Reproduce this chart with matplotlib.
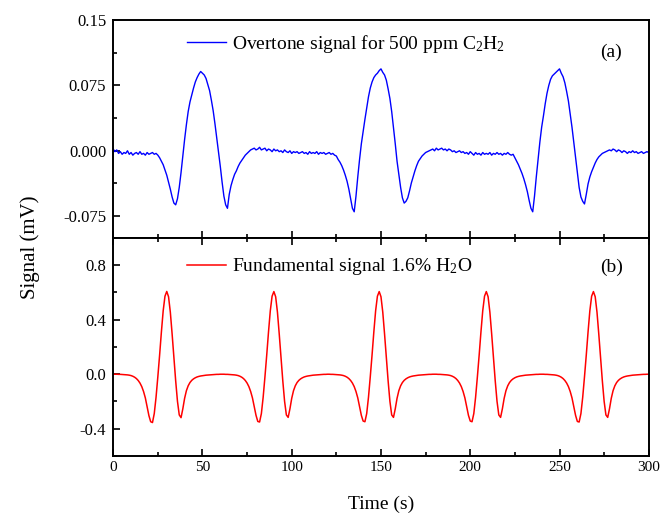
import numpy as np
import matplotlib
matplotlib.use('Agg')
import matplotlib.pyplot as plt
from matplotlib.ticker import MultipleLocator

plt.rcParams['font.family'] = ['Liberation Serif', 'DejaVu Serif']
plt.rcParams['mathtext.fontset'] = 'custom'
plt.rcParams['mathtext.rm'] = 'Liberation Serif'
plt.rcParams['mathtext.it'] = 'Liberation Serif:italic'
plt.rcParams['axes.unicode_minus'] = False

# time grid, 1 s steps
time = np.arange(0, 301)

# (a) overtone signal, 500 ppm C2H2 (mV)
overtone = [
    # 0-25
    0.002, -0.001, 0.001, -0.003, -0.001, -0.004, -0.002, -0.003, 0.000, -0.004,
    -0.002, -0.005, -0.003, -0.002, -0.004, -0.001, -0.004, -0.003, -0.005, -0.002,
    -0.004, -0.003, -0.002, -0.004, -0.003, -0.005,
    # 26-78
    -0.008, -0.012, -0.016, -0.022, -0.028, -0.036, -0.044, -0.053, -0.060, -0.062,
    -0.055, -0.042, -0.025, -0.006, 0.013, 0.030, 0.045, 0.056, 0.064, 0.072,
    0.079, 0.084, 0.088, 0.091, 0.089, 0.087, 0.083, 0.076, 0.069, 0.058,
    0.046, 0.031, 0.015, -0.002, -0.018, -0.036, -0.052, -0.062, -0.066, -0.050,
    -0.040, -0.033, -0.027, -0.023, -0.018, -0.014, -0.011, -0.008, -0.005, -0.003,
    -0.001, 0.001, 0.002,
    # 79-124
    0.003, 0.001, 0.002, 0.004, 0.001, 0.002, 0.003, 0.000, 0.002, 0.001,
    -0.001, 0.002, 0.000, 0.001, -0.001, 0.000, -0.002, 0.001, -0.001, -0.002,
    0.000, -0.003, -0.001, -0.002, -0.001, -0.003, -0.002, -0.001, -0.003, -0.002,
    -0.004, -0.001, -0.003, -0.002, -0.003, -0.001, -0.004, -0.002, -0.003, -0.002,
    -0.004, -0.003, -0.002, -0.004, -0.003, -0.005,
    # 125-178
    -0.006, -0.010, -0.013, -0.017, -0.022, -0.028, -0.035, -0.044, -0.055, -0.066,
    -0.070, -0.052, -0.030, -0.010, 0.008, 0.022, 0.036, 0.049, 0.062, 0.072,
    0.079, 0.084, 0.087, 0.089, 0.092, 0.094, 0.090, 0.087, 0.081, 0.071,
    0.060, 0.045, 0.027, 0.008, -0.012, -0.027, -0.042, -0.054, -0.060, -0.058,
    -0.054, -0.046, -0.037, -0.030, -0.023, -0.017, -0.012, -0.009, -0.006, -0.004,
    -0.002, -0.001, 0.000, 0.001,
    # 179-224
    0.002, 0.000, 0.003, 0.001, 0.002, 0.003, 0.001, 0.002, 0.000, 0.002,
    0.001, -0.001, 0.000, -0.002, -0.001, 0.000, -0.002, -0.001, -0.003, -0.002,
    -0.004, -0.001, -0.003, -0.005, -0.002, -0.004, -0.003, -0.005, -0.002, -0.004,
    -0.003, -0.004, -0.002, -0.005, -0.003, -0.004, -0.002, -0.004, -0.003, -0.005,
    -0.003, -0.004, -0.002, -0.004, -0.005, -0.004,
    # 225-278
    -0.008, -0.012, -0.016, -0.021, -0.026, -0.032, -0.039, -0.047, -0.057, -0.066,
    -0.070, -0.052, -0.030, -0.010, 0.010, 0.027, 0.040, 0.054, 0.066, 0.075,
    0.082, 0.086, 0.088, 0.090, 0.092, 0.094, 0.089, 0.085, 0.078, 0.068,
    0.057, 0.042, 0.027, 0.010, -0.006, -0.024, -0.042, -0.053, -0.058, -0.061,
    -0.050, -0.038, -0.030, -0.024, -0.019, -0.014, -0.010, -0.007, -0.005, -0.003,
    -0.002, -0.001, 0.000, 0.001,
    # 279-300
    0.000, 0.002, 0.001, -0.001, 0.001, 0.000, -0.002, 0.000, -0.001, -0.003,
    -0.001, -0.002, 0.000, -0.002, -0.001, -0.003, -0.002, -0.001, -0.003, -0.002,
    -0.001, -0.002,
]

# (b) fundamental signal, 1.6% H2O (mV)
fundamental = [
    # 0-59 (peak at 30)
    -0.001, -0.001, -0.001, -0.002, -0.002, -0.003, -0.004, -0.005, -0.006, -0.008,
    -0.011, -0.016, -0.023, -0.033, -0.047, -0.066, -0.092, -0.128, -0.175, -0.240,
    -0.305, -0.350, -0.356, -0.290, -0.170, -0.020, 0.140, 0.310, 0.465, 0.572,
    0.607, 0.568, 0.455, 0.295, 0.120, -0.050, -0.200, -0.300, -0.320, -0.255,
    -0.178, -0.122, -0.086, -0.062, -0.046, -0.035, -0.027, -0.021, -0.017, -0.014,
    -0.012, -0.010, -0.008, -0.007, -0.006, -0.005, -0.004, -0.003, -0.002, -0.002,
    # 60-119 (peak at 90)
    -0.001, -0.001, -0.001, -0.002, -0.002, -0.003, -0.004, -0.005, -0.006, -0.008,
    -0.011, -0.016, -0.023, -0.033, -0.047, -0.066, -0.092, -0.128, -0.175, -0.240,
    -0.303, -0.348, -0.352, -0.290, -0.170, -0.020, 0.140, 0.310, 0.465, 0.572,
    0.606, 0.568, 0.455, 0.295, 0.120, -0.050, -0.200, -0.300, -0.318, -0.255,
    -0.178, -0.122, -0.086, -0.062, -0.046, -0.035, -0.027, -0.021, -0.017, -0.014,
    -0.012, -0.010, -0.008, -0.007, -0.006, -0.005, -0.004, -0.003, -0.002, -0.002,
    # 120-178 (peak at 149)
    -0.001, -0.001, -0.002, -0.002, -0.003, -0.004, -0.005, -0.006, -0.008,
    -0.011, -0.016, -0.023, -0.033, -0.047, -0.066, -0.092, -0.128, -0.175, -0.240,
    -0.303, -0.345, -0.350, -0.290, -0.170, -0.020, 0.140, 0.310, 0.465, 0.572,
    0.606, 0.568, 0.455, 0.295, 0.120, -0.050, -0.200, -0.300, -0.318, -0.255,
    -0.178, -0.122, -0.086, -0.062, -0.046, -0.035, -0.027, -0.021, -0.017, -0.014,
    -0.012, -0.010, -0.008, -0.007, -0.006, -0.005, -0.004, -0.003, -0.002, -0.002,
    # 179-238 (peak at 209)
    -0.001, -0.001, -0.001, -0.002, -0.002, -0.003, -0.004, -0.005, -0.006, -0.008,
    -0.011, -0.016, -0.023, -0.033, -0.047, -0.066, -0.092, -0.128, -0.175, -0.240,
    -0.303, -0.345, -0.350, -0.290, -0.170, -0.020, 0.140, 0.310, 0.465, 0.572,
    0.606, 0.568, 0.455, 0.295, 0.120, -0.050, -0.200, -0.300, -0.318, -0.255,
    -0.178, -0.122, -0.086, -0.062, -0.046, -0.035, -0.027, -0.021, -0.017, -0.014,
    -0.012, -0.010, -0.008, -0.007, -0.006, -0.005, -0.004, -0.003, -0.002, -0.002,
    # 239-300 (peak at 269)
    -0.001, -0.001, -0.001, -0.002, -0.002, -0.003, -0.004, -0.005, -0.006, -0.008,
    -0.011, -0.016, -0.023, -0.033, -0.047, -0.066, -0.092, -0.128, -0.175, -0.240,
    -0.303, -0.348, -0.352, -0.290, -0.170, -0.020, 0.140, 0.310, 0.465, 0.572,
    0.606, 0.568, 0.455, 0.295, 0.120, -0.050, -0.200, -0.300, -0.318, -0.255,
    -0.178, -0.122, -0.086, -0.062, -0.046, -0.035, -0.027, -0.021, -0.017, -0.014,
    -0.012, -0.010, -0.008, -0.007, -0.006, -0.005, -0.004, -0.003, -0.002, -0.002,
    -0.001, -0.001,
]

fig, (ax1, ax2) = plt.subplots(2, 1, sharex=True, figsize=(6.62, 5.15), dpi=100)
fig.subplots_adjust(left=0.171, right=0.980, top=0.961, bottom=0.115, hspace=0)

ax1.plot(time, overtone, color='#0000ff', lw=1.0,
         label='Overtone signal for 500 ppm C$_2$H$_2$')
ax2.plot(time, fundamental, color='#ff0000', lw=1.1,
         label='Fundamental signal 1.6% H$_2$O')

ax1.set_ylim(-0.1, 0.15)
ax1.set_yticks([-0.075, 0.0, 0.075, 0.15])
ax1.set_yticklabels(['-0.075', '0.000', '0.075', '0.15'])
ax1.yaxis.set_minor_locator(MultipleLocator(0.0375))

ax2.set_ylim(-0.6, 1.0)
ax2.set_yticks([-0.4, 0.0, 0.4, 0.8])
ax2.yaxis.set_minor_locator(MultipleLocator(0.2))

ax2.set_xlim(0, 300)
ax2.xaxis.set_major_locator(MultipleLocator(50))
ax2.xaxis.set_minor_locator(MultipleLocator(25))

for ax in (ax1, ax2):
    for sp in ax.spines.values():
        sp.set_linewidth(1.4)
    ax.tick_params(which='both', direction='in', width=1.2,
                   top=False, right=False)
    ax.tick_params(axis='y', labelsize=12, pad=5)
    ax.tick_params(axis='x', labelsize=11)
    ax.tick_params(which='major', length=5)
    ax.tick_params(which='minor', length=3)
ax1.tick_params(axis='x', which='both', bottom=True)
ax2.tick_params(axis='x', which='both', top=True)

leg_kw = dict(loc='upper left', frameon=False, fontsize=14, handlelength=2.0,
              handletextpad=0.3, borderaxespad=0, borderpad=0)
ax1.legend(bbox_to_anchor=(0.138, 0.94), **leg_kw)
ax2.legend(bbox_to_anchor=(0.138, 0.915), **leg_kw)

ax1.text(0.93, 0.85, '(a)', transform=ax1.transAxes, fontsize=14, ha='center', va='center')
ax2.text(0.93, 0.865, '(b)', transform=ax2.transAxes, fontsize=14, ha='center', va='center')

ax2.set_xlabel('Time (s)', fontsize=14, labelpad=16)
fig.text(0.045, 0.52, 'Signal (mV)', rotation=90, fontsize=15, ha='center', va='center')

fig.savefig('out.png', dpi=100)
